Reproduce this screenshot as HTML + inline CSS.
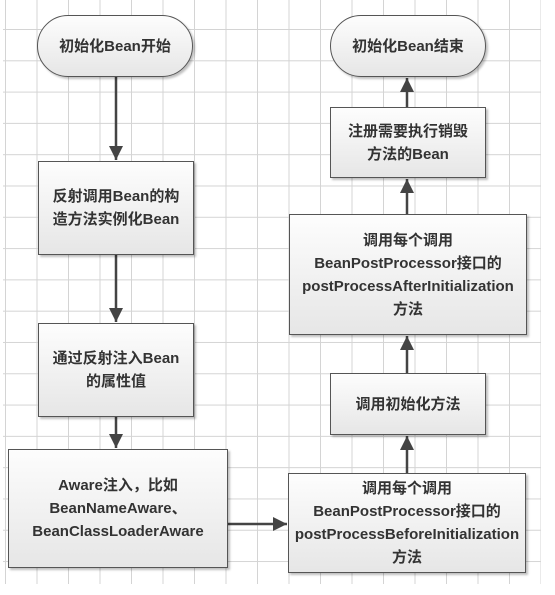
<!DOCTYPE html>
<html><head><meta charset="utf-8"><style>
body{margin:0;width:555px;height:595px;background:#fff;overflow:hidden;position:relative;font-family:"Liberation Sans","Noto Sans CJK SC",sans-serif;}
.grid{position:absolute;left:3px;top:0;width:538px;height:584px;
background-image:linear-gradient(to right,#d4d4d4 1px,transparent 1px),linear-gradient(to bottom,#d4d4d4 1px,transparent 1px);
background-size:31.5px 31.3px;background-position:2px 29px;}
.b{position:absolute;box-sizing:border-box;border:1.5px solid #555;background:linear-gradient(#fdfdfd,#e6e6e6);
box-shadow:2px 2px 2px rgba(0,0,0,.25);display:flex;align-items:center;justify-content:center;text-align:center;
font-size:15px;font-weight:bold;color:#333;line-height:23px;}
.t{border-radius:32px;}
svg{position:absolute;left:0;top:0}
</style></head><body>
<div class="grid"></div>
<svg width="555" height="595">
<defs>
<marker id="m" viewBox="0 0 10 10" markerWidth="14" markerHeight="14" refX="10" refY="5" orient="auto" markerUnits="userSpaceOnUse"><path d="M0,0L10,5L0,10z" fill="#444"/></marker></defs>
<g stroke="#444" stroke-width="2.5" fill="none">
<line x1="116" y1="77" x2="116" y2="160" marker-end="url(#m)"/>
<line x1="116" y1="255" x2="116" y2="322" marker-end="url(#m)"/>
<line x1="116" y1="417" x2="116" y2="448" marker-end="url(#m)"/>
<line x1="228" y1="524" x2="287" y2="524" marker-end="url(#m)"/>
<line x1="407" y1="473" x2="407" y2="436" marker-end="url(#m)"/>
<line x1="407" y1="373" x2="407" y2="336" marker-end="url(#m)"/>
<line x1="407" y1="214" x2="407" y2="179" marker-end="url(#m)"/>
<line x1="407" y1="107" x2="407" y2="78" marker-end="url(#m)"/>
</g></svg>
<div class="b t" style="left:37px;top:15px;width:156px;height:62px">初始化Bean开始</div>
<div class="b" style="left:38px;top:161px;width:156px;height:94px">反射调用Bean的构<br>造方法实例化Bean</div>
<div class="b" style="left:38px;top:323px;width:156px;height:94px">通过反射注入Bean<br>的属性值</div>
<div class="b" style="left:8px;top:449px;width:220px;height:119px">Aware注入，比如<br>BeanNameAware、<br>BeanClassLoaderAware</div>
<div class="b t" style="left:330px;top:15px;width:156px;height:62px">初始化Bean结束</div>
<div class="b" style="left:330px;top:107px;width:156px;height:71px">注册需要执行销毁<br>方法的Bean</div>
<div class="b" style="left:289px;top:214px;width:238px;height:121px">调用每个调用<br>BeanPostProcessor接口的<br>postProcessAfterInitialization<br>方法</div>
<div class="b" style="left:330px;top:373px;width:156px;height:62px">调用初始化方法</div>
<div class="b" style="left:288px;top:473px;width:238px;height:100px">调用每个调用<br>BeanPostProcessor接口的<br>postProcessBeforeInitialization<br>方法</div>
</body></html>
